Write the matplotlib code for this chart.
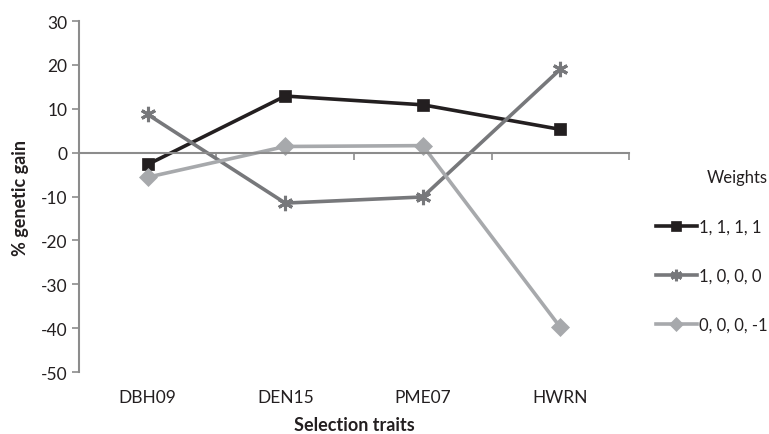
import numpy as np
import matplotlib.pyplot as plt

plt.rcParams['font.family'] = ['Lato', 'DejaVu Sans']
plt.rcParams['axes.unicode_minus'] = False

traits = ["DBH09", "DEN15", "PME07", "HWRN"]
weights = ["1, 1, 1, 1", "1, 0, 0, 0", "0, 0, 0, -1"]
gain_1111 = [-2.7, 12.9, 10.9, 5.3]
gain_1000 = [8.7, -11.5, -10.1, 19.0]
gain_000m1 = [-5.6, 1.4, 1.6, -39.8]

series = [gain_1111, gain_1000, gain_000m1]
colors = ["#231f20", "#77787b", "#a7a9ac"]
markers = ["s", (6, 2, 0), "D"]
msizes = [9, 11, 9]

axis_grey = "#8c8c8c"

fig = plt.figure(figsize=(7.69, 4.35), dpi=100)
ax = fig.add_axes([0.1027, 0.1425, 0.818 - 0.1027, 0.9494 - 0.1425])

x = np.arange(len(traits))
for vals, lab, c, m, ms in zip(series, weights, colors, markers, msizes):
    ax.plot(x, vals, color=c, lw=2.6, marker=m, markersize=ms,
            markeredgewidth=2.2 if m == markers[1] else 0.5,
            markeredgecolor=c, label=lab)

ax.set_xlim(-0.5, len(traits) - 0.5)
ax.set_ylim(-50, 30)
ax.set_yticks(np.arange(-50, 31, 10))
ax.tick_params(axis='y', colors=axis_grey, length=5, width=1.2,
               labelcolor="#231f20", labelsize=12.5)

for s in ["top", "right"]:
    ax.spines[s].set_visible(False)
ax.spines["left"].set_color(axis_grey)
ax.spines["left"].set_linewidth(1.5)
ax.spines["bottom"].set_position(("data", 0))
ax.spines["bottom"].set_color(axis_grey)
ax.spines["bottom"].set_linewidth(1.5)
ax.set_xticks(np.arange(0.5, len(traits) + 0.5, 1.0))
ax.tick_params(axis='x', colors=axis_grey, length=5, width=1.2,
               labelbottom=False)

sec = ax.secondary_xaxis("bottom")
sec.set_xticks(x)
sec.set_xticklabels(traits)
sec.tick_params(length=0, labelsize=12.5, labelcolor="#231f20", pad=12)
sec.spines["bottom"].set_visible(False)
sec.set_xlabel("Selection traits", fontsize=13, fontweight="bold",
               color="#231f20", labelpad=8)

ax.set_ylabel("% genetic gain", fontsize=13, fontweight="bold",
              color="#231f20", labelpad=8)

leg = ax.legend(title="Weights", loc="center left",
                bbox_to_anchor=(0.833, 1 - 252 / 435),
                bbox_transform=fig.transFigure, frameon=False,
                fontsize=12, title_fontsize=12, labelspacing=2.0,
                handlelength=2.5, handletextpad=0.1, markerscale=0.75)
leg._legend_box.align = "right"
leg.get_title().set_color("#231f20")
for t in leg.get_texts():
    t.set_color("#231f20")

fig.savefig("out.png", dpi=100)
